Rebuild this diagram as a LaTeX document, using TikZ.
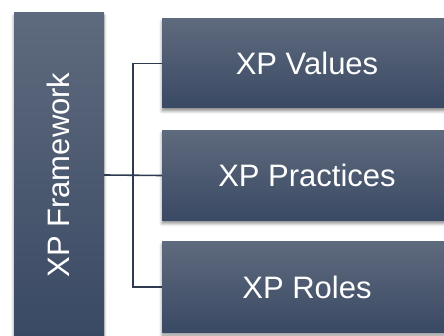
\documentclass[tikz,border=0pt]{standalone}
\usepackage{fontspec}
\setmainfont{Liberation Sans}
\usetikzlibrary{shadows.blur}
\definecolor{boxtop}{RGB}{94,106,125}
\definecolor{boxbot}{RGB}{58,73,100}
\definecolor{linkc}{RGB}{45,58,80}
\tikzset{
  xpbox/.style={draw=none, top color=boxtop, bottom color=boxbot,
    text=white, font=\fontsize{31}{36}\selectfont, inner sep=0pt,
    blur shadow={shadow xshift=0pt, shadow yshift=-3pt, shadow opacity=45, shadow blur radius=3pt}},
  link/.style={draw=linkc, line width=1.6pt}
}
\begin{document}
\begin{tikzpicture}[x=1pt,y=-1pt]
\useasboundingbox (0,0) rectangle (444,336);
\node[xpbox, minimum width=90pt, minimum height=324pt] (fw) at (59,175) {};
\node[text=white, font=\fontsize{31}{36}\selectfont, rotate=90] (fwt) at (58.5,175) {XP Framework};
\node[xpbox, minimum width=290pt, minimum height=89pt] (v) at (307,63.5) {XP Values};
\node[xpbox, minimum width=290pt, minimum height=90pt] (p) at (307,175.5) {XP Practices};
\node[xpbox, minimum width=290pt, minimum height=90pt] (r) at (307,287) {XP Roles};
\coordinate (j) at (133,175);
\draw[link] (fw.east) -- (p.west);
\draw[link] (v.west) -| (j) |- (r.west);
\end{tikzpicture}
\end{document}
